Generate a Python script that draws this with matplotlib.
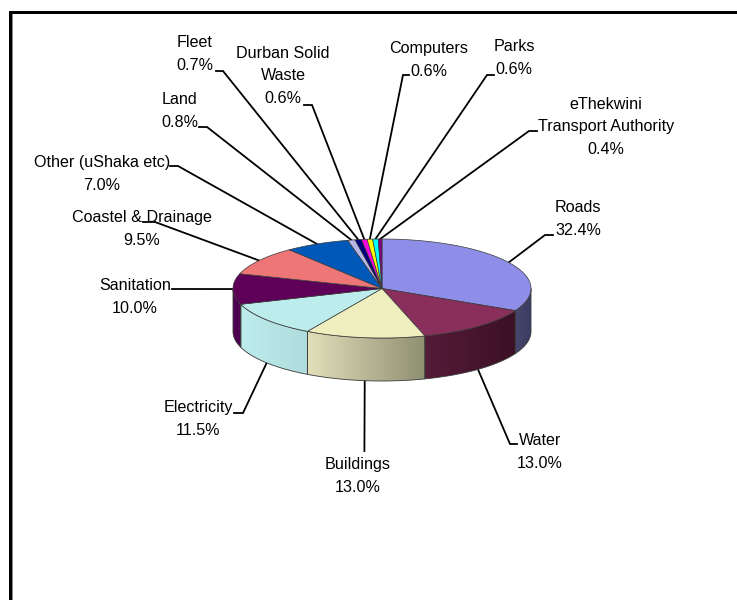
import numpy as np
import matplotlib
matplotlib.use("Agg")
import matplotlib.pyplot as plt
from matplotlib.colors import to_rgb
from matplotlib.patches import Polygon, Rectangle

plt.rcParams['font.family'] = ['Liberation Sans', 'DejaVu Sans']

# Budget shares, clockwise from twelve o'clock
categories = ["Roads", "Water", "Buildings", "Electricity", "Sanitation",
              "Coastel & Drainage", "Other (uShaka etc)", "Land", "Fleet",
              "Durban Solid\nWaste", "Computers", "Parks",
              "eThekwini\nTransport Authority"]
shares = [32.4, 13.0, 13.0, 11.5, 10.0, 9.5, 7.0, 0.8, 0.7, 0.6, 0.6, 0.6, 0.4]

top_colors = ["#8e8ee8", "#8a2e5c", "#eeeebe", "#bcecec", "#5e0058", "#ee7676",
              "#0058b8", "#b8b8e8", "#000080", "#ff00e0", "#ffff00", "#00ffff",
              "#800080"]
# Wall shading per slice: colour at the left and right end of each visible wall
wall_left = {"Roads": "#46466e", "Water": "#551b38", "Buildings": "#e2dfba",
             "Electricity": "#bdecec", "Sanitation": "#4d0050"}
wall_right = {"Roads": "#3c3c62", "Water": "#3c1026", "Buildings": "#8f8f72",
              "Electricity": "#afdcdc", "Sanitation": "#4d0050"}

# Label block centre, leader elbow, end of the leader's short horizontal run
label_xy = [(578, 219), (540, 452), (358, 476), (198, 419), (135, 297), (142, 229),
            (102, 174), (180, 111), (195, 54), (283, 76), (429, 60), (514, 58),
            (606, 127)]
leader_elbow = [(545, 235), (510, 444), (364.4, 451), (243, 413), (180, 289), (155, 222),
                (178, 166), (207, 127), (223, 71), (312, 105), (403, 75), (487, 75),
                (529, 131)]
leader_end = [(553, 235), (517, 444), (364.4, 451), (234, 413), (172, 289), (143, 222),
              (170, 166), (199, 127), (216, 71), (304, 105), (409, 75), (494, 75),
              (537, 131)]

# Pie geometry in pixels
CX, CY, RX, RY, DEPTH = 382, 288.5, 149, 49.5, 43
EDGE = "#3a3a3a"


def rim(theta_deg, drop=0.0):
    t = np.radians(theta_deg)
    return CX + RX * np.sin(t), CY - RY * np.cos(t) + drop


fig = plt.figure(figsize=(7.37, 6.0), dpi=100, facecolor="white")
ax = fig.add_axes([0, 0, 1, 1])
ax.axis("off")

values = np.array(shares)
bounds = np.concatenate([[0], np.cumsum(values)]) / values.sum() * 360

# Leader lines sit underneath the pie
for i, name in enumerate(categories):
    mid = (bounds[i] + bounds[i + 1]) / 2
    on_wall = 90 < mid < 265
    x0, y0 = rim(mid, DEPTH if on_wall else 0)
    ex, ey = leader_elbow[i]
    fx, fy = leader_end[i]
    ax.plot([x0, ex, fx], [y0, ey, fy], color="black", lw=1.3, zorder=1,
            solid_joinstyle="miter")

# Side walls: only the front half of the rim (90 to 270 degrees) is visible
for i, name in enumerate(categories):
    a = max(bounds[i], 90)
    b = min(bounds[i + 1], 270)
    if a >= b:
        continue
    th = np.linspace(a, b, 80)
    xt, yt = rim(th)
    xb, yb = rim(th[::-1], DEPTH)
    pts = np.column_stack([np.r_[xt, xb], np.r_[yt, yb]])
    poly = Polygon(pts, closed=True, facecolor="none", edgecolor=EDGE, lw=0.6, zorder=3)
    ax.add_patch(poly)
    x_lo, x_hi = pts[:, 0].min(), pts[:, 0].max()
    left = np.array(to_rgb(wall_left[name]))
    right = np.array(to_rgb(wall_right[name]))
    ramp = np.linspace(0, 1, 128)[:, None]
    grad = (left + (right - left) * ramp)[None, :, :]
    im = ax.imshow(grad, extent=(x_lo, x_hi, pts[:, 1].max(), pts[:, 1].min()),
                   aspect="auto", interpolation="bilinear", zorder=2)
    im.set_clip_path(Polygon(pts, closed=True, transform=ax.transData))

# Top face
for i, name in enumerate(categories):
    th = np.linspace(bounds[i], bounds[i + 1], 80)
    xt, yt = rim(th)
    pts = np.column_stack([np.r_[CX, xt], np.r_[CY, yt]])
    ax.add_patch(Polygon(pts, closed=True, facecolor=top_colors[i],
                         edgecolor=EDGE, lw=0.5, zorder=4))

# Labels: the name (possibly two lines) above the percentage
for i, name in enumerate(categories):
    ax.text(label_xy[i][0], label_xy[i][1], f"{name}\n{shares[i]:.1f}%", ha="center",
            va="center", ma="center", fontsize=11.6, color="black", linespacing=1.62,
            zorder=6)

# Page frame along the top and left edges
ax.add_patch(Rectangle((9, 11), 728, 3, facecolor="black", edgecolor="none", zorder=7))
ax.add_patch(Rectangle((9, 11), 3, 589, facecolor="black", edgecolor="none", zorder=7))
ax.add_patch(Rectangle((12, 14), 1.5, 586, facecolor="#8a8a8a", edgecolor="none", zorder=7))

ax.set_xlim(0, 737)
ax.set_ylim(600, 0)
fig.savefig("out.png", dpi=100, facecolor="white")
